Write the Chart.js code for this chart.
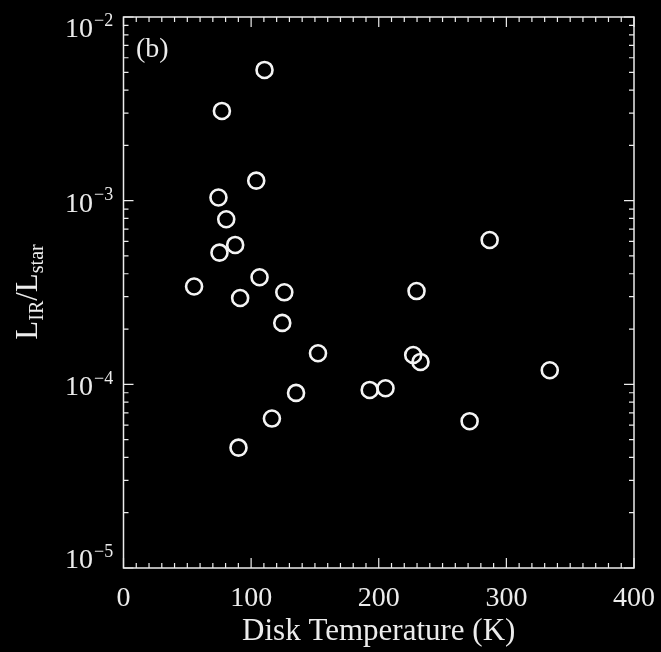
<!DOCTYPE html>
<html>
<head>
<meta charset="utf-8">
<script src="https://cdn.jsdelivr.net/npm/chart.js@4.4.0/dist/chart.umd.min.js"></script>
<style>
  html, body { margin: 0; padding: 0; background: #000; }
  canvas { display: block; }
</style>
</head>
<body>
<canvas id="grafico" width="661" height="652"></canvas>
<script>
// === DADOS ===
const diskTemp = [110.5, 77.1, 104, 74.4, 80.5, 87.5, 75.2, 55.3, 106.6, 126, 91.4, 124.4,
                  152.4, 135.2, 116.3, 90.1, 192.9, 205.3, 227, 232.7, 229.6, 286.9, 334, 271.2];
const lirLstar = [5.15e-3, 3.08e-3, 1.285e-3, 1.04e-3, 7.92e-4, 5.74e-4, 5.21e-4, 3.41e-4, 3.83e-4, 3.17e-4, 2.95e-4, 2.16e-4,
                  1.476e-4, 8.98e-5, 6.51e-5, 4.52e-5, 9.32e-5, 9.52e-5, 1.445e-4, 1.324e-4, 3.22e-4, 6.11e-4, 1.193e-4, 6.3e-5];
const xTickLabels = [0, 100, 200, 300, 400];
const yDecades = [-5, -4, -3, -2];

const FONT = "'Liberation Serif', 'DejaVu Serif', serif";
const INK = '#ececec';

// === EIXOS ESTILO IDL (caixa, ticks para dentro, rótulos 10^n) ===
const idlAxes = {
  id: 'idlAxes',
  afterDraw(chart) {
    const { ctx, chartArea: a, scales: { x, y } } = chart;
    ctx.save();
    ctx.strokeStyle = INK;
    ctx.lineWidth = 1.5;
    ctx.strokeRect(a.left, a.top, a.right - a.left, a.bottom - a.top);

    ctx.lineWidth = 1.2;
    ctx.beginPath();
    // ticks do eixo x
    for (let v = 0; v <= 400; v += 10) {
      const px = x.getPixelForValue(v);
      const len = v % 100 === 0 ? 10 : 5;
      ctx.moveTo(px, a.bottom); ctx.lineTo(px, a.bottom - len);
      ctx.moveTo(px, a.top); ctx.lineTo(px, a.top + len);
    }
    // ticks do eixo y (log)
    yDecades.forEach(e => {
      for (let m = 1; m <= 9; m++) {
        const v = m * Math.pow(10, e);
        if (v > 1.0001e-2) break;
        const py = y.getPixelForValue(v);
        const len = m === 1 ? 10 : 5;
        ctx.moveTo(a.left, py); ctx.lineTo(a.left + len, py);
        ctx.moveTo(a.right, py); ctx.lineTo(a.right - len, py);
      }
    });
    ctx.stroke();

    // rótulos do eixo y
    ctx.fillStyle = INK;
    ctx.textBaseline = 'alphabetic';
    yDecades.forEach(e => {
      const py = y.getPixelForValue(Math.pow(10, e));
      const base = Math.min(a.bottom, Math.max(a.top + 20, py + 11));
      ctx.font = `28px ${FONT}`;
      ctx.textAlign = 'right';
      ctx.fillText('10', 93, base);
      ctx.font = `18px ${FONT}`;
      ctx.textAlign = 'left';
      ctx.fillText('\u2212' + Math.abs(e), 94, base - 11.5);
    });

    // título do eixo y: L_IR / L_star
    ctx.save();
    ctx.translate(37, 292);
    ctx.rotate(-Math.PI / 2);
    const parts = [['L', 31, 0], ['IR', 20, 6], ['/L', 31, 0], ['star', 20, 6]];
    let total = 0;
    parts.forEach(p => { ctx.font = `${p[1]}px ${FONT}`; total += ctx.measureText(p[0]).width; });
    let cx = -total / 2;
    ctx.textAlign = 'left';
    parts.forEach(p => {
      ctx.font = `${p[1]}px ${FONT}`;
      ctx.fillText(p[0], cx, p[2]);
      cx += ctx.measureText(p[0]).width;
    });
    ctx.restore();

    // marcador do painel
    ctx.font = `28px ${FONT}`;
    ctx.textAlign = 'left';
    ctx.fillText('(b)', 136, 57);
    ctx.restore();
  }
};

const ctx = document.getElementById('grafico').getContext('2d');
const grafico = new Chart(ctx, {
  type: 'scatter',
  data: {
    datasets: [{
      data: diskTemp.map((t, i) => ({ x: t, y: lirLstar[i] })),
      pointRadius: 8,
      pointHoverRadius: 8,
      pointBorderWidth: 2.6,
      pointBorderColor: '#f4f4f4',
      pointBackgroundColor: 'rgba(0,0,0,0)'
    }]
  },
  options: {
    responsive: false,
    animation: false,
    layout: { padding: { top: 17, right: 27, left: 0, bottom: 0 } },
    plugins: { legend: { display: false }, tooltip: { enabled: false } },
    scales: {
      x: {
        type: 'linear', min: 0, max: 400,
        afterBuildTicks: s => { s.ticks = xTickLabels.map(v => ({ value: v })); },
        afterFit: s => { s.height = 84; s.paddingLeft = 0; s.paddingRight = 0; },
        ticks: { color: INK, font: { family: FONT, size: 28 }, padding: 14, maxRotation: 0 },
        grid: { display: false, drawTicks: false },
        border: { display: false },
        title: {
          display: true, text: 'Disk Temperature (K)', color: INK,
          font: { family: FONT, size: 31 }, padding: { top: 0, bottom: 2 }
        }
      },
      y: {
        type: 'logarithmic', min: 1e-5, max: 1e-2,
        afterFit: s => { s.width = 123.5; s.paddingTop = 0; s.paddingBottom = 0; },
        ticks: { display: false },
        grid: { display: false, drawTicks: false },
        border: { display: false }
      }
    }
  },
  plugins: [idlAxes]
});
</script>
</body>
</html>
